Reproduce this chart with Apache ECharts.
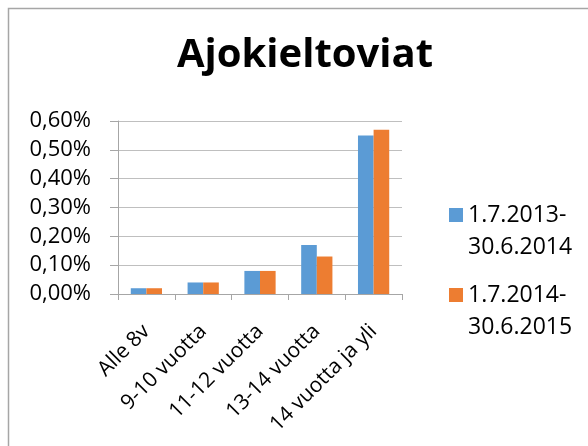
<!DOCTYPE html>
<html><head><meta charset="utf-8">
<script src="https://cdn.jsdelivr.net/npm/echarts@6/dist/echarts.min.js"></script>
<style>html,body{margin:0;padding:0;background:#fff}#c{width:588px;height:446px}</style>
</head><body><div id="c"></div>
<script>
var categories = ['Alle 8v', '9-10 vuotta', '11-12 vuotta', '13-14 vuotta', '14 vuotta ja yli'];
var seriesNames = ['1.7.2013-\n30.6.2014', '1.7.2014-\n30.6.2015'];
var values2013 = [0.02, 0.04, 0.08, 0.17, 0.55];
var values2014 = [0.02, 0.04, 0.08, 0.13, 0.57];
var titleText = 'Ajokieltoviat';

var FONT = '"Open Sans", Lato, "Liberation Sans", sans-serif';
var chart = echarts.init(document.getElementById('c'), null, {renderer: 'canvas'});
function legendFor(name, top) {
  return {
    data: [name], top: top, left: 444, orient: 'vertical',
    icon: 'rect', itemWidth: 14, itemHeight: 14,
    formatter: function (n) { return ' \n' + n; },
    textStyle: {fontFamily: FONT, fontSize: 23, color: '#000', lineHeight: 32},
    selectedMode: false
  };
}
chart.setOption({
  animation: false,
  backgroundColor: '#fff',
  color: ['#5B9BD5', '#ED7D31'],
  title: {text: titleText, left: 300, top: 31, textAlign: 'center',
    textStyle: {fontFamily: FONT, fontSize: 40, fontWeight: 'bold', color: '#000'}},
  graphic: [{type: 'rect', shape: {x: 8.5, y: 8.5, width: 620, height: 480}, style: {fill: null, stroke: '#a6a6a6', lineWidth: 1.5}, silent: true}],
  legend: [legendFor(seriesNames[0], 162), legendFor(seriesNames[1], 242)],
  grid: {left: 118, right: 186, top: 121, bottom: 152, containLabel: false},
  xAxis: {
    type: 'category', data: categories,
    axisLine: {lineStyle: {color: '#a6a6a6', width: 1}},
    axisTick: {show: true, length: 6, lineStyle: {color: '#a6a6a6'}},
    axisLabel: {rotate: 45, fontFamily: FONT, fontSize: 21, color: '#000', margin: 34, interval: 0}
  },
  yAxis: {
    type: 'value', min: 0, max: 0.6, interval: 0.1,
    axisLine: {show: true, lineStyle: {color: '#a6a6a6'}},
    axisTick: {show: true, inside: false, length: 8, lineStyle: {color: '#a6a6a6'}},
    splitLine: {lineStyle: {color: '#bfbfbf'}},
    axisLabel: {fontFamily: FONT, fontSize: 22, color: '#000', margin: 27,
      formatter: function (v) { return v.toFixed(2).replace('.', ',') + '%'; }}
  },
  series: [
    {name: seriesNames[0], type: 'bar', data: values2013, barGap: '0%', barCategoryGap: '45%'},
    {name: seriesNames[1], type: 'bar', data: values2014, barGap: '0%', barCategoryGap: '45%'}
  ]
});
</script></body></html>
